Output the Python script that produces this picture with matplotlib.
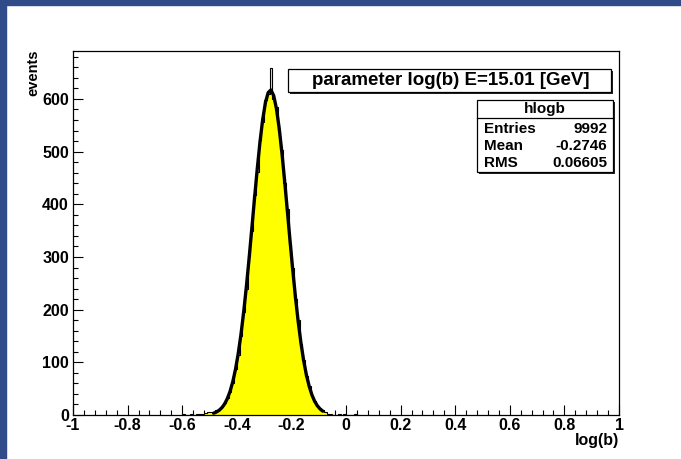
import numpy as np
import matplotlib
matplotlib.use("Agg")
import matplotlib.pyplot as plt
import matplotlib.transforms as mtransforms
from matplotlib.patches import Rectangle
from matplotlib.ticker import MultipleLocator

plt.rcParams['font.family'] = ['Liberation Sans', 'DejaVu Sans']
plt.rcParams['font.weight'] = 'bold'

# histogram hlogb: bins of 0.01 starting at -0.60 (all other bins empty)
bin_lo = -0.60
bin_width = 0.01
counts = [1, 0, 0, 1, 0, 1, 2, 1, 4, 6,
          6, 5, 9, 12, 15, 22, 33, 44, 60, 88,
          114, 150, 196, 240, 302, 349, 418, 462, 522, 556,
          598, 610, 658, 600, 585, 540, 503, 440, 392, 325,
          280, 220, 180, 134, 105, 74, 56, 36, 27, 17,
          13, 9, 6, 2, 1, 0, 0, 1, 0, 1,
          0, 0, 0, 1, 0]

# gaussian fit curve
fit_x = [-0.485, -0.475, -0.465, -0.455, -0.445, -0.435, -0.425, -0.415, -0.405, -0.395,
         -0.385, -0.375, -0.365, -0.355, -0.345, -0.335, -0.325, -0.315, -0.305, -0.295,
         -0.285, -0.275, -0.265, -0.255, -0.245, -0.235, -0.225, -0.215, -0.205, -0.195,
         -0.185, -0.175, -0.165, -0.155, -0.145, -0.135, -0.125, -0.115, -0.105, -0.095,
         -0.085]
fit_y = [3.4, 5.6, 8.8, 13.7, 20.7, 30.7, 44.4, 62.5, 86.1, 115.8,
         151.9, 194.5, 243.3, 297.0, 353.9, 411.9, 467.7, 518.7, 561.5, 593.4,
         612.1, 617.0, 606.5, 582.2, 545.4, 499.2, 445.8, 388.7, 330.7, 275.2,
         223.2, 176.8, 136.7, 103.0, 76.0, 54.9, 38.4, 26.3, 17.6, 11.5,
         7.3]

title = "parameter log(b) E=15.01 [GeV]"
stats_name = "hlogb"
stats_rows = [("Entries", "9992"), ("Mean", "-0.2746"), ("RMS", "0.06605")]

W, H = 681, 459
fig = plt.figure(figsize=(W / 100, H / 100), dpi=100)

def fx(px):
    return px / W

def fy(py):
    return 1 - py / H

# blue canvas border (left and top)
fig.patches.append(Rectangle((0, 0), fx(6), 1, transform=fig.transFigure,
                             color='#2f4b8a', zorder=0))
fig.patches.append(Rectangle((0, fy(5)), 1, 5 / H, transform=fig.transFigure,
                             color='#2f4b8a', zorder=0))

ax = fig.add_axes([fx(73), fy(415), fx(619) - fx(73), fy(51) - fy(415)])

edges = bin_lo + bin_width * np.arange(len(counts) + 1)
ax.stairs(counts, edges, fill=True, color='#ffff00', zorder=2)
ax.stairs(counts, edges, color='black', lw=0.8, zorder=3)
ax.plot(fit_x, fit_y, color='black', lw=2.4, zorder=4, solid_capstyle='round')

ax.set_xlim(-1, 1)
ax.set_ylim(0, 691)
ax.xaxis.set_major_locator(MultipleLocator(0.2))
ax.xaxis.set_minor_locator(MultipleLocator(0.04))
ax.yaxis.set_major_locator(MultipleLocator(100))
ax.yaxis.set_minor_locator(MultipleLocator(20))
ax.tick_params(which='both', direction='in', top=False, right=False,
               labelsize=11.5, width=0.8)
ax.tick_params(which='major', length=7.5)
ax.tick_params(which='minor', length=3.8)
ax.tick_params(axis='x', pad=2.5)
ax.tick_params(axis='y', pad=3)
ax.set_xticks([-1, -0.8, -0.6, -0.4, -0.2, 0, 0.2, 0.4, 0.6, 0.8, 1])
ax.set_xticklabels(['-1', '-0.8', '-0.6', '-0.4', '-0.2', '0', '0.2', '0.4', '0.6', '0.8', '1'])
for lab in ax.get_xticklabels() + ax.get_yticklabels():
    lab.set_fontweight('bold')
# the "0" on the y axis sits a little above the corner, as in ROOT
ylab0 = ax.get_yticklabels()[0]
ylab0.set_transform(ylab0.get_transform() +
                    mtransforms.ScaledTranslation(0, 3 / 100, fig.dpi_scale_trans))
for sp in ax.spines.values():
    sp.set_linewidth(0.9)

fig.text(fx(619), fy(441), "log(b)", ha='right', va='center', fontsize=11.5, fontweight='bold')
fig.text(fx(33), fy(50), "events", ha='center', va='top', rotation=90,
         fontsize=10.5, fontweight='bold')

# title box with shadow
def box(x0, y0, x1, y1):
    fig.patches.append(Rectangle((fx(x0 + 2), fy(y1 + 2)), fx(x1) - fx(x0), fy(y0) - fy(y1),
                                 transform=fig.transFigure, facecolor='#222222',
                                 edgecolor='none', zorder=5))
    fig.patches.append(Rectangle((fx(x0), fy(y1)), fx(x1) - fx(x0), fy(y0) - fy(y1),
                                 transform=fig.transFigure, facecolor='white',
                                 edgecolor='black', lw=0.9, zorder=6))

box(288, 69, 611, 92)
fig.text(fx(451), fy(80.5), title, ha='center', va='center', fontsize=13.5,
         fontweight='bold', zorder=7)

box(477, 100, 613, 172)
fig.add_artist(plt.Line2D([fx(477), fx(613)], [fy(118), fy(118)],
                          transform=fig.transFigure, color='black', lw=0.9, zorder=7))
fig.text(fx(545), fy(109), stats_name, ha='center', va='center', fontsize=11,
         fontweight='bold', zorder=7)
for i, (name, val) in enumerate(stats_rows):
    y = 129 + 17 * i
    fig.text(fx(484), fy(y), name, ha='left', va='center', fontsize=11,
             fontweight='bold', zorder=7)
    fig.text(fx(607), fy(y), val, ha='right', va='center', fontsize=11,
             fontweight='bold', zorder=7)

fig.savefig("out.png", dpi=100)
